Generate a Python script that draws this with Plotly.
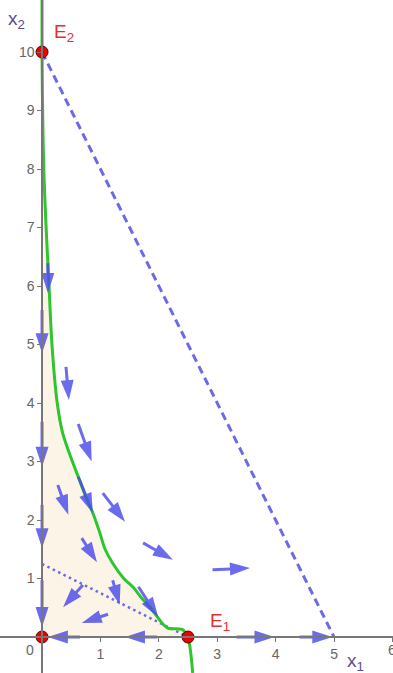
import plotly.graph_objects as go

# ---- data ----
# green curve (nullcline) points, top to bottom
curve_x = [0.0, 0.0, 0.01, 0.03, 0.07, 0.12, 0.17, 0.26, 0.35, 0.52, 0.62, 0.75, 0.87, 0.99,
           1.08, 1.21, 1.40, 1.56, 1.72, 1.85, 1.97, 2.07, 2.16, 2.30, 2.40, 2.46, 2.50, 2.54, 2.58]
curve_y = [10.89, 10.0, 9.0, 8.0, 7.0, 6.0, 5.0, 4.0, 3.5, 3.0, 2.74, 2.4, 2.12, 1.78,
           1.5, 1.26, 1.0, 0.85, 0.65, 0.51, 0.35, 0.22, 0.15, 0.14, 0.13, 0.07, 0.0, -0.22, -0.615]

# equilibrium points
eq_x = [0.0, 2.5, 0.0]
eq_y = [0.0, 0.0, 10.0]
eq_labels = ["E<sub>1</sub>", "E<sub>2</sub>"]
eq_label_x = [3.05, 0.38]
eq_label_y = [0.26, 10.32]

# dashed line and dotted line endpoints
dash_x = [0.0, 5.0]
dash_y = [10.0, 0.0]
dot_x = [0.0, 2.5]
dot_y = [1.25, 0.0]

# vector field arrows: tail (x0, y0) -> head (x1, y1)
arr_x0 = [0.10, 0.00, 0.41, 0.00, 0.62, 0.27, 0.62, 1.04, 1.73, 2.92, 0.00, 0.68, 1.21, 1.65, 0.70, 1.13, 0.00, 0.65, 1.97, 3.33, 4.41]
arr_y0 = [6.39, 5.59, 4.62, 3.68, 3.64, 2.60, 2.74, 2.46, 1.61, 1.15, 2.26, 1.69, 0.97, 0.86, 0.89, 0.39, 0.97, 0.00, 0.00, 0.00, 0.00]
arr_x1 = [0.10, 0.00, 0.46, 0.00, 0.85, 0.45, 0.87, 1.42, 2.24, 3.56, 0.00, 0.94, 1.33, 1.99, 0.36, 0.68, 0.00, 0.10, 1.42, 3.98, 4.97]
arr_y1 = [5.88, 4.85, 4.05, 2.91, 3.00, 2.09, 2.12, 1.97, 1.32, 1.18, 1.52, 1.28, 0.55, 0.34, 0.51, 0.24, 0.17, 0.00, 0.00, 0.00, 0.00]

x_ticks = [1, 2, 3, 4, 5, 6]
y_ticks = [1, 2, 3, 4, 5, 6, 7, 8, 9, 10]

X_RANGE = [-0.72, 6.01]
Y_RANGE = [-0.615, 10.89]

FONT = "Liberation Sans, Arial"
ARROW_COLOR = "#4b4beb"

fig = go.Figure()

# shaded region between axes and the curve (from E2 to E1)
fill_x = [x for x, y in zip(curve_x, curve_y) if 0 <= y <= 10] + [0.0]
fill_y = [y for y in curve_y if 0 <= y <= 10] + [0.0]
fig.add_trace(go.Scatter(x=fill_x, y=fill_y, fill="toself", fillcolor="#fdf4e8",
                         line=dict(width=0), mode="lines", hoverinfo="skip"))

# dashed line
fig.add_trace(go.Scatter(x=dash_x, y=dash_y, mode="lines",
                         line=dict(color="#6b6be6", width=3, dash="8px,5px")))
# dotted line
fig.add_trace(go.Scatter(x=dot_x, y=dot_y, mode="lines",
                         line=dict(color="#6b6be6", width=2.5, dash="2.5px,3.5px")))
# green curve
fig.add_trace(go.Scatter(x=curve_x, y=curve_y, mode="lines", line_shape="spline",
                         line=dict(color="#2ec52e", width=3)))

# arrows: shafts + arrow-shaped markers at the heads (one trace, translucent as a whole)
ax_list, ay_list, sizes = [], [], []
for x0, y0, x1, y1 in zip(arr_x0, arr_y0, arr_x1, arr_y1):
    ax_list += [x0, x1, None]
    ay_list += [y0, y1, None]
    sizes += [0, 21, 0]
fig.add_trace(go.Scatter(x=ax_list, y=ay_list, mode="lines+markers", opacity=0.82,
                         line=dict(color=ARROW_COLOR, width=3),
                         marker=dict(symbol="arrow", size=sizes, angleref="previous",
                                     color=ARROW_COLOR, opacity=1, line=dict(width=0)),
                         connectgaps=False, hoverinfo="skip"))

# equilibrium points
fig.add_trace(go.Scatter(x=eq_x, y=eq_y, mode="markers",
                         marker=dict(color="#ee0000", size=12, line=dict(color="#550000", width=1))))

for t, lx, ly in zip(eq_labels, eq_label_x, eq_label_y):
    fig.add_annotation(x=lx, y=ly, text=t, showarrow=False, xref="x", yref="y",
                       font=dict(color="#e03030", size=19, family=FONT))

# axis titles
fig.add_annotation(x=-0.43, y=10.55, text="x<sub>2</sub>", showarrow=False,
                   font=dict(color="#5e4a8e", size=19, family=FONT))
fig.add_annotation(x=5.37, y=-0.42, text="x<sub>1</sub>", showarrow=False,
                   font=dict(color="#5e4a8e", size=19, family=FONT))
# origin label and the edge tick label
fig.add_annotation(x=-0.2, y=-0.22, text="0", showarrow=False,
                   font=dict(color="#666666", size=14, family=FONT))
fig.add_annotation(x=x_ticks[-1], y=-0.22, text=str(x_ticks[-1]), showarrow=False,
                   font=dict(color="#666666", size=14, family=FONT))

fig.update_layout(
    width=393, height=673, margin=dict(l=0, r=0, t=0, b=0, autoexpand=False),
    plot_bgcolor="white", paper_bgcolor="white", showlegend=False,
    xaxis=dict(range=X_RANGE, showgrid=False, zeroline=False, showline=True,
               linecolor="#777777", linewidth=1.5, anchor="free", automargin=False,
               position=-Y_RANGE[0] / (Y_RANGE[1] - Y_RANGE[0]),
               tickmode="array", tickvals=x_ticks, ticks="outside", ticklen=4,
               tickcolor="#777777", tickfont=dict(size=14, color="#666666", family=FONT)),
    yaxis=dict(range=Y_RANGE, showgrid=False, zeroline=False, showline=True,
               linecolor="#777777", linewidth=1.5, anchor="free", automargin=False,
               position=-X_RANGE[0] / (X_RANGE[1] - X_RANGE[0]),
               tickmode="array", tickvals=y_ticks, ticks="outside", ticklen=4,
               tickcolor="#777777", tickfont=dict(size=14, color="#666666", family=FONT)),
)

fig.write_html("out.html", config={"displayModeBar": False},
               post_script="document.body.style.margin='0px';document.body.style.padding='0px';")
